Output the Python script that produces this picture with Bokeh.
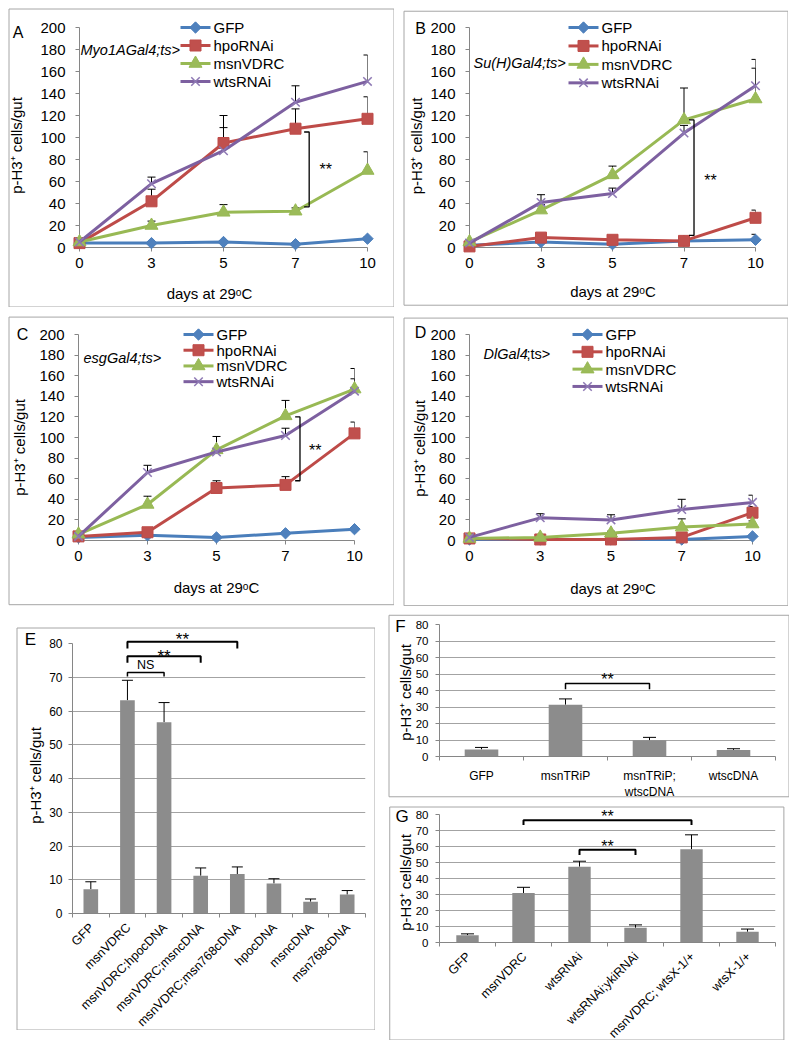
import math
from bokeh.plotting import figure
from bokeh.models import Range1d, FixedTicker, Whisker, TeeHead, ColumnDataSource, Spacer
from bokeh.layouts import row, column
from bokeh.embed import file_html
from bokeh.resources import INLINE
from bokeh.core.properties import value

FONT = "Liberation Sans"
AXIS_C = "#868686"
BOX_C = "#a6a6a6"
GRID_C = "#a3a3a3"
BAR_C = "#8c8c8c"

# ---------------- data ----------------
days = ["0", "3", "5", "7", "10"]
series_names = ["GFP", "hpoRNAi", "msnVDRC", "wtsRNAi"]
line_y_ticks = [0, 20, 40, 60, 80, 100, 120, 140, 160, 180, 200]
bar_y_ticks = [0, 10, 20, 30, 40, 50, 60, 70, 80]

# Panel A : Myo1AGal4;ts>
a_gfp = [4, 4, 5, 3, 8]
a_gfp_err = [0.5, 0.8, 1, 0.8, 1.5]
a_hpo = [4, 42, 95, 108, 117]
a_hpo_err = [1, 11, 25, 18, 20]
a_msn = [5, 20, 32, 33, 70]
a_msn_err = [1, 4, 7, 3, 17]
a_wts = [5, 58, 88, 132, 151]
a_wts_err = [1, 6, 21, 15, 24]

# Panel B : Su(H)Gal4;ts>
b_gfp = [2, 5, 3, 6, 7]
b_gfp_err = [0.5, 1, 1, 1, 5]
b_hpo = [1, 9, 7, 6, 27]
b_hpo_err = [0.5, 2, 1, 1, 7]
b_msn = [5, 34, 66, 116, 135]
b_msn_err = [1, 5, 8, 29, 28]
b_wts = [4, 41, 49, 104, 147]
b_wts_err = [1, 7, 5, 7, 24]

# Panel C : esgGal4;ts>
c_gfp = [3, 5, 3, 7, 11]
c_gfp_err = [0.5, 1, 1, 1, 1.5]
c_hpo = [4, 8, 51, 54, 104]
c_hpo_err = [1, 2, 7, 8, 11]
c_msn = [6, 35, 88, 121, 147]
c_msn_err = [1, 8, 13, 15, 20]
c_wts = [4, 66, 86, 102, 145]
c_wts_err = [1, 7, 3, 7, 12]

# Panel D : DlGal4;ts>
d_gfp = [1, 1, 1, 1, 4]
d_gfp_err = [0.3, 0.3, 0.3, 0.3, 1]
d_hpo = [2, 1, 1, 3, 27]
d_hpo_err = [0.5, 0.5, 0.5, 1, 6]
d_msn = [2, 3, 7, 13, 16]
d_msn_err = [0.5, 1, 2, 8, 3]
d_wts = [3, 22, 20, 30, 37]
d_wts_err = [1, 4, 5, 10, 7]

# Panel E
e_cats = ["GFP", "msnVDRC", "msnVDRC;hpocDNA", "msnVDRC;msncDNA",
          "msnVDRC;msn768cDNA", "hpocDNA", "msncDNA", "msn768cDNA"]
e_vals = [7.2, 63.2, 56.7, 11.2, 11.7, 8.9, 3.5, 5.6]
e_errs = [2.2, 5.9, 5.8, 2.3, 2.1, 1.4, 0.8, 1.2]

# Panel F
f_cats = ["GFP", "msnTRiP", "msnTRiP;\nwtscDNA", "wtscDNA"]
f_vals = [4.3, 31.4, 9.8, 4.0]
f_errs = [1.2, 3.5, 1.8, 0.7]

# Panel G
g_cats = ["GFP", "msnVDRC", "wtsRNAi", "wtsRNAi;ykiRNAi", "msnVDRC; wtsX-1/+", "wtsX-1/+"]
g_vals = [4.6, 30.9, 47.4, 9.2, 58.3, 6.7]
g_errs = [0.8, 3.6, 3.4, 1.8, 9.0, 1.7]

YTITLE = "p-H3\u207a cells/gut"
XTITLE = "days at 29\u1d52C"

STYLE = {
    "GFP": dict(line="#4A7EBB", fill="#4F81BD", marker="square", angle=math.pi / 4, size=8),
    "hpoRNAi": dict(line="#BE4B48", fill="#C0504D", marker="square", angle=0, size=11),
    "msnVDRC": dict(line="#98B954", fill="#9BBB59", marker="triangle", angle=0, size=13),
    "wtsRNAi": dict(line="#7D60A0", fill="#8E79B4", marker="x", angle=0, size=12),
}


class Geo:
    def __init__(self, W, H, fl, ft, fr, fb, xr, yr):
        self.W, self.H, self.fl, self.ft, self.fr, self.fb = W, H, fl, ft, fr, fb
        self.xr, self.yr = xr, yr
        self.ppx = (fr - fl) / (xr[1] - xr[0])
        self.ppy = (fb - ft) / (yr[1] - yr[0])

    def X(self, px):
        return self.xr[0] + (px - self.fl) / self.ppx

    def Y(self, py):
        return self.yr[0] + (self.fb - py) / self.ppy


def make_fig(g):
    p = figure(width=g.W, height=g.H, x_range=Range1d(*g.xr), y_range=Range1d(*g.yr),
               output_backend="svg", toolbar_location=None, title=None,
               min_border_left=g.fl, min_border_right=g.W - g.fr,
               min_border_top=g.ft, min_border_bottom=g.H - g.fb,
               outline_line_color=None, background_fill_color="white",
               border_fill_color="white")
    p.grid.grid_line_color = None
    p.quad(left=[g.X(0.5)], right=[g.X(g.W - 0.5)], top=[g.Y(0.5)], bottom=[g.Y(g.H - 0.5)],
           fill_color=None, line_color=BOX_C, line_width=1, level="overlay")
    return p


def txt(p, g, px, py, s, size, align="left", baseline="middle", angle=0, style="normal"):
    p.text(x=[g.X(px)], y=[g.Y(py)], text=[s], text_font=value(FONT),
           text_font_size=f"{size}px", text_align=align, text_baseline=baseline,
           angle=angle, text_font_style=style, text_color="black", level="overlay")


def stars(p, g, xd, yd, s, size, kind="star"):
    # yd: visible centre of the glyphs in data units
    off = 0.22 * size if kind == "star" else 0.0
    p.text(x=[xd], y=[yd - off / g.ppy], text=[s], text_font=value(FONT),
           text_font_size=f"{size}px", text_align="center", text_baseline="middle",
           text_color="black", level="overlay")


def style_axis(ax, fs):
    ax.axis_line_color = AXIS_C
    ax.major_tick_line_color = AXIS_C
    ax.minor_tick_line_color = None
    ax.major_tick_in = 0
    ax.major_tick_out = 4
    ax.major_label_text_font = FONT
    ax.major_label_text_font_size = f"{fs}px"
    ax.major_label_text_color = "black"


def line_panel(g, letter, letter_pos, geno, data, errs, bracket, star_pos,
               legend_pos, legend_step, xt_pos, yt_pos):
    p = make_fig(g)
    xs = list(range(len(days)))
    xa, ya = p.xaxis[0], p.yaxis[0]
    style_axis(xa, 15)
    style_axis(ya, 15)
    xa.ticker = FixedTicker(ticks=xs)
    xa.major_label_overrides = {i: d for i, d in enumerate(days)}
    xa.major_label_standoff = 6
    ya.ticker = FixedTicker(ticks=line_y_ticks)
    ya.major_label_standoff = 10

    for name, ys, es in zip(series_names, data, errs):
        src = ColumnDataSource(dict(x=xs, lo=ys, hi=[y + e for y, e in zip(ys, es)]))
        p.add_layout(Whisker(base="x", lower="lo", upper="hi", source=src, dimension="height",
                             line_color="black", line_width=1,
                             upper_head=TeeHead(size=8, line_color="black", line_width=1),
                             lower_head=None))
    for name, ys in zip(series_names, data):
        st = STYLE[name]
        p.line(xs, ys, line_color=st["line"], line_width=3, level="overlay")
        if st["marker"] == "x":
            p.scatter(xs, ys, marker="x", size=st["size"], line_color=st["fill"],
                      line_width=1.5, level="overlay")
        else:
            p.scatter(xs, ys, marker=st["marker"], size=st["size"], angle=st["angle"],
                      fill_color=st["fill"], line_color=st["line"], line_width=1, level="overlay")

    # significance bracket
    if bracket is not None:
        xl, xr_, yt, yb = bracket
        p.line([xl, xr_, xr_, xl], [yt, yt, yb, yb], line_color="black", line_width=1.3,
               level="overlay")
        stars(p, g, star_pos[0], star_pos[1], "**", 16)

    # legend (drawn by hand to mimic the Excel legend)
    lx, ly = legend_pos
    for i, name in enumerate(series_names):
        st = STYLE[name]
        cy = ly + i * legend_step
        p.line([g.X(lx), g.X(lx + 30)], [g.Y(cy), g.Y(cy)], line_color=st["line"],
               line_width=3, level="overlay")
        if st["marker"] == "x":
            p.scatter([g.X(lx + 15)], [g.Y(cy)], marker="x", size=st["size"],
                      line_color=st["fill"], line_width=1.5, level="overlay")
        else:
            p.scatter([g.X(lx + 15)], [g.Y(cy)], marker=st["marker"], size=st["size"],
                      angle=st["angle"], fill_color=st["fill"], line_color=st["line"],
                      line_width=1, level="overlay")
        txt(p, g, lx + 33, cy, name, 15)

    txt(p, g, letter_pos[0], letter_pos[1], letter, 16, align="center")
    for s, px, py, stl in geno:
        txt(p, g, px, py, s, 14.5, style=stl)
    txt(p, g, xt_pos[0], xt_pos[1], XTITLE, 15, align="center")
    txt(p, g, yt_pos[0], yt_pos[1], YTITLE, 15, align="center", angle=math.pi / 2)
    return p


def bar_panel(g, letter, letter_pos, cats, vals, errs, brackets, marks, yt_pos,
              rotate, tick_fs, cat_fs, cap, bw, ystandoff, cat_standoff):
    p = make_fig(g)
    n = len(cats)
    xc = [i + 0.5 for i in range(n)]
    xa, ya = p.xaxis[0], p.yaxis[0]
    style_axis(xa, cat_fs)
    style_axis(ya, tick_fs)
    xa.ticker = FixedTicker(ticks=xc, minor_ticks=list(range(n + 1)))
    xa.major_tick_out = 0
    xa.minor_tick_line_color = AXIS_C
    xa.minor_tick_in = 0
    xa.minor_tick_out = 4
    xa.major_label_standoff = cat_standoff
    if rotate:
        # slanted category labels, right end placed just under each category centre
        xa.major_label_overrides = {c: "" for c in xc}
        p.text(x=[c + 1 / g.ppx for c in xc], y=[g.Y(g.fb + 12)] * n, text=cats,
               text_font=value(FONT), text_font_size=f"{cat_fs}px", text_align="right",
               text_baseline="middle", angle=math.pi / 4, text_color="black", level="overlay")
    else:
        xa.major_label_overrides = dict(zip(xc, cats))
    ya.ticker = FixedTicker(ticks=bar_y_ticks)
    ya.major_label_standoff = ystandoff
    p.ygrid.ticker = FixedTicker(ticks=bar_y_ticks)
    p.ygrid.grid_line_color = GRID_C
    p.ygrid.grid_line_width = 1

    p.vbar(x=xc, top=vals, width=bw, bottom=0, fill_color=BAR_C, line_color=None)
    src = ColumnDataSource(dict(x=xc, lo=vals, hi=[v + e for v, e in zip(vals, errs)]))
    p.add_layout(Whisker(base="x", lower="lo", upper="hi", source=src, dimension="height",
                         line_color="black", line_width=1,
                         upper_head=TeeHead(size=cap, line_color="black", line_width=1),
                         lower_head=None))
    for (i1, i2, ytop, ytick, lw), (s, ym, fs) in zip(brackets, marks):
        p.line([xc[i1], xc[i1], xc[i2], xc[i2]], [ytick, ytop, ytop, ytick],
               line_color="black", line_width=lw, level="overlay")
        stars(p, g, (xc[i1] + xc[i2]) / 2, ym, s, fs, kind="star" if s.startswith("*") else "text")

    txt(p, g, letter_pos[0], letter_pos[1], letter, 17, align="center")
    txt(p, g, yt_pos[0], yt_pos[1], YTITLE, 15, align="center", angle=math.pi / 2)
    return p


# ---------------- panels ----------------
gA = Geo(386, 299, 71, 19, 359, 239, (0, 4), (0, 200))
pA = line_panel(gA, "A", (9.5, 23.5),
                [("Myo1AGal4;ts>", 72, 41, "italic")],
                [a_gfp, a_hpo, a_msn, a_wts], [a_gfp_err, a_hpo_err, a_msn_err, a_wts_err],
                (3.12, 3.19, 105, 37), (3.42, 74), (172, 19), 18, (201, 285), (8, 137))

gB = Geo(385, 299, 66, 17, 352, 240, (0, 4), (0, 200))
pB = line_panel(gB, "B", (17, 18),
                [("Su(H)Gal4;ts>", 70, 53, "italic")],
                [b_gfp, b_hpo, b_msn, b_wts], [b_gfp_err, b_hpo_err, b_msn_err, b_wts_err],
                (3.07, 3.14, 116, 11), (3.37, 64), (165, 17), 18.7, (209.5, 285), (12.5, 137))

gC = Geo(386, 290, 70, 18, 346, 225, (0, 4), (0, 200))
pC = line_panel(gC, "C", (14, 17.5),
                [("esgGal4;ts>", 75, 42, "italic")],
                [c_gfp, c_hpo, c_msn, c_wts], [c_gfp_err, c_hpo_err, c_msn_err, c_wts_err],
                (3.14, 3.21, 120, 58), (3.43, 91), (175, 18), 15.8, (208, 272), (11, 131.5))

gD = Geo(385, 290, 66, 17, 349, 224, (0, 4), (0, 200))
pD = line_panel(gD, "D", (17, 15),
                [("DlGal4", 80, 37, "italic"), (";ts>", 123, 37, "normal")],
                [d_gfp, d_hpo, d_msn, d_wts], [d_gfp_err, d_hpo_err, d_msn_err, d_wts_err],
                None, None, (169, 17), 17.4, (209.5, 272), (16, 131.5))

gE = Geo(359, 403, 56, 16, 349, 286, (0, 8), (0, 80))
pE = bar_panel(gE, "E", (14, 12), e_cats, e_vals, e_errs,
               [(1, 4, 80.5, 78.5, 2), (1, 3, 76.2, 74.3, 2), (1, 2, 71.4, 70.2, 1.5)],
               [("**", 82.3, 17), ("**", 77.4, 17), ("NS", 73.5, 12.5)],
               (19, 148), True, 12, 12.5, 11, 0.4, 6, 4)

gF = Geo(401, 188, 51, 10, 387, 146, (0, 4), (0, 80))
pF = bar_panel(gF, "F", (12, 12.5), f_cats, f_vals, f_errs,
               [(1, 2, 44.2, 40.7, 1.5)], [("**", 48.7, 16)],
               (17, 80), False, 11.5, 12, 13, 0.4, 7, 8)

gG = Geo(401, 234, 51, 8, 392, 136, (0, 6), (0, 80))
pG = bar_panel(gG, "G", (13, 10), g_cats, g_vals, g_errs,
               [(1, 4, 76.4, 73.5, 2), (2, 3, 58.0, 54.7, 2)],
               [("**", 81.2, 16), ("**", 62.3, 16)],
               (17, 76), True, 11.5, 12.5, 13, 0.4, 7, 4)

r1 = row(pA, Spacer(width=9, height=299), pB)
r2 = row(pC, Spacer(width=9, height=290), pD)
r3 = row(Spacer(width=8, height=10),
         column(Spacer(width=10, height=21), pE),
         Spacer(width=13, height=10),
         column(Spacer(width=10, height=8), pF, Spacer(width=10, height=4), pG))
body = column(r1, Spacer(width=10, height=9), r2, r3)
lay = column(Spacer(width=10, height=8), row(Spacer(width=8, height=10), body))

open("out.html", "w").write(file_html(lay, INLINE))
